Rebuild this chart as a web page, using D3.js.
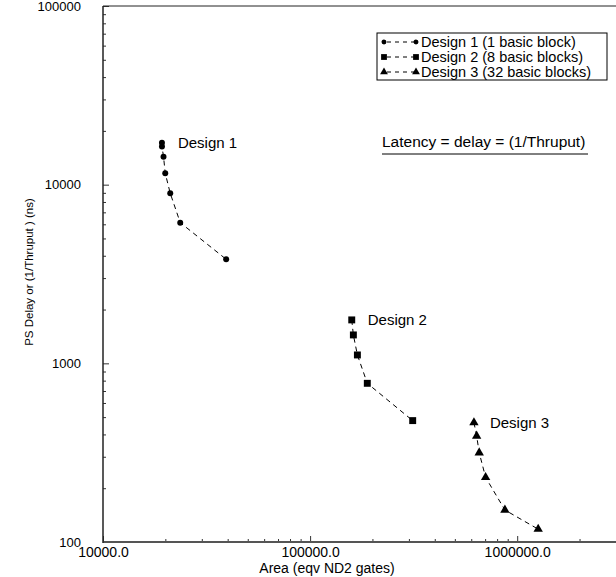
<!DOCTYPE html>
<html>
<head>
<meta charset="utf-8">
<script src="https://cdn.jsdelivr.net/npm/d3@7"></script>
<style>
  body { margin: 0; background: #fff; }
  svg { font-family: "Liberation Sans", Arial, sans-serif; }
</style>
</head>
<body>
<div id="chart"></div>
<script>
// values (area in gates, delay in ns)
const design1Area  = [19260, 19260, 19600, 19980, 21120, 23600, 39330];
const design1Delay = [17180, 16360, 14340, 11580, 8950, 6130, 3823];
const design2Area  = [158900, 161800, 169200, 188900, 312900];
const design2Delay = [1750, 1442, 1114, 773, 478];
const design3Area  = [618200, 637200, 655600, 703900, 872400, 1263000];
const design3Delay = [466, 392, 316, 230, 151, 118];

const seriesNames = ["Design 1 (1 basic block)", "Design 2 (8 basic blocks)", "Design 3 (32 basic blocks)"];
const seriesLabels = ["Design 1", "Design 2", "Design 3"];
const xTicks = [10000, 100000, 1000000];
const yTicks = [100, 1000, 10000, 100000];

const width = 616, height = 577;
const margin = {top: 6, right: 0, bottom: 35, left: 103};

const svg = d3.select("#chart").append("svg")
  .attr("width", width)
  .attr("height", height);

const x = d3.scaleLog().domain([10000, 3000000]).range([margin.left, width - margin.right]);
const y = d3.scaleLog().domain([100, 100000]).range([height - margin.bottom, margin.top]);

const minorX = [];
for (let d = 10000; d < 3000000; d *= 10)
  for (let k = 2; k <= 9; k++) if (d * k < 3000000) minorX.push(d * k);
const minorY = [];
for (let d = 100; d < 100000; d *= 10)
  for (let k = 2; k <= 9; k++) minorY.push(d * k);

const axisColor = "#555";

// minor ticks
svg.append("g")
  .attr("transform", `translate(0,${y(100)})`)
  .call(d3.axisBottom(x).tickValues(minorX).tickSize(-3).tickFormat(""))
  .call(g => g.select(".domain").remove())
  .call(g => g.selectAll("line").attr("stroke", "#333"));
svg.append("g")
  .attr("transform", `translate(${x(10000)},0)`)
  .call(d3.axisLeft(y).tickValues(minorY).tickSize(-3).tickFormat(""))
  .call(g => g.select(".domain").remove())
  .call(g => g.selectAll("line").attr("stroke", "#333"));

// major ticks + labels
svg.append("g")
  .attr("transform", `translate(0,${y(100)})`)
  .call(d3.axisBottom(x).tickValues(xTicks).tickSize(-6).tickPadding(5).tickFormat(d => d.toFixed(1)))
  .call(g => g.select(".domain").remove())
  .call(g => g.selectAll("line").attr("stroke", "#333"))
  .call(g => g.selectAll("text").attr("font-size", 14).attr("font-family", "Liberation Sans, Arial, sans-serif").attr("fill", "#000"));

svg.append("g")
  .attr("transform", `translate(${x(10000)},0)`)
  .call(d3.axisLeft(y).tickValues(yTicks).tickSize(-6).tickPadding(22).tickFormat(d3.format("d")))
  .call(g => g.select(".domain").remove())
  .call(g => g.selectAll("line").attr("stroke", "#333"))
  .call(g => g.selectAll("text").attr("font-size", 13).attr("font-family", "Liberation Sans, Arial, sans-serif").attr("fill", "#000"));

// frame lines
svg.append("line").attr("x1", x(10000)).attr("x2", width).attr("y1", y(100)).attr("y2", y(100))
  .attr("stroke", axisColor).attr("stroke-width", 2);
svg.append("line").attr("x1", x(10000)).attr("x2", x(10000)).attr("y1", y(100) + 1).attr("y2", y(100000))
  .attr("stroke", "#222").attr("stroke-width", 1.5);
svg.append("line").attr("x1", x(10000)).attr("x2", width).attr("y1", y(100000)).attr("y2", y(100000))
  .attr("stroke", "#222").attr("stroke-width", 1);

// axis titles
svg.append("text")
  .attr("x", 327).attr("y", 573)
  .attr("text-anchor", "middle")
  .attr("font-size", 14)
  .text("Area (eqv ND2 gates)");

svg.append("text")
  .attr("transform", `translate(33,272) rotate(-90)`)
  .attr("text-anchor", "middle")
  .attr("font-size", 11.5)
  .text("PS Delay or (1/Thruput )  (ns)");

// series
const series = [
  {area: design1Area, delay: design1Delay, shape: d3.symbolCircle, size: 28},
  {area: design2Area, delay: design2Delay, shape: d3.symbolSquare, size: 48},
  {area: design3Area, delay: design3Delay, shape: d3.symbolTriangle, size: 38}
];

const line = d3.line().x(d => x(d[0])).y(d => y(d[1]));

series.forEach((s, i) => {
  const pts = s.area.map((a, j) => [a, s.delay[j]]);
  svg.append("path")
    .datum(pts)
    .attr("d", line)
    .attr("fill", "none")
    .attr("stroke", "#000")
    .attr("stroke-width", 1)
    .attr("stroke-dasharray", "5,4");
  svg.selectAll(null)
    .data(pts)
    .enter().append("path")
    .attr("d", d3.symbol().type(s.shape).size(s.size))
    .attr("transform", d => `translate(${x(d[0])},${y(d[1])})`)
    .attr("fill", "#000");
  const first = pts[0];
  svg.append("text")
    .attr("x", x(first[0]) + 16)
    .attr("y", y(first[1]) + 5)
    .attr("font-size", 15)
    .text(seriesLabels[i]);
});

// legend
const lg = svg.append("g");
lg.append("rect")
  .attr("x", 377).attr("y", 33).attr("width", 230).attr("height", 47)
  .attr("fill", "#fff").attr("stroke", "#000").attr("stroke-width", 1);
seriesNames.forEach((name, i) => {
  const ly = 42 + i * 15;
  lg.append("line")
    .attr("x1", 384).attr("x2", 416).attr("y1", ly).attr("y2", ly)
    .attr("stroke", "#000").attr("stroke-dasharray", "4,4").attr("stroke-dashoffset", -3);
  [384, 416].forEach(lx => {
    lg.append("path")
      .attr("d", d3.symbol().type(series[i].shape).size(series[i].size * 0.7))
      .attr("transform", `translate(${lx},${ly})`)
      .attr("fill", "#000");
  });
  lg.append("text")
    .attr("x", 421).attr("y", ly + 5)
    .attr("font-size", 14.5)
    .text(name);
});

// note
svg.append("text")
  .attr("x", 382).attr("y", 147)
  .attr("font-size", 15.5)
  .text("Latency = delay = (1/Thruput)");
svg.append("line")
  .attr("x1", 382).attr("x2", 588).attr("y1", 154).attr("y2", 154)
  .attr("stroke", "#000").attr("stroke-width", 1);
</script>
</body>
</html>
